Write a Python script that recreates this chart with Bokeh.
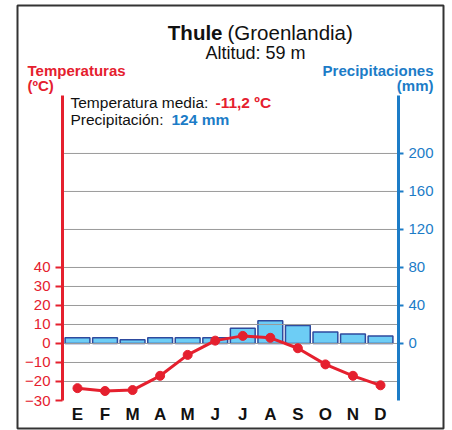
from bokeh.plotting import figure
from bokeh.models import (Range1d, LinearAxis, FixedTicker, Label, BoxAnnotation)
from bokeh.embed import file_html
from bokeh.resources import INLINE

# ---- data ----
months = ["E", "F", "M", "A", "M", "J", "J", "A", "S", "O", "N", "D"]
temperature = [-23.5, -25.0, -24.5, -17.0, -6.0, 1.5, 4.0, 3.0, -2.5, -11.0, -17.0, -22.0]
precipitation = [6, 6, 4, 6, 6, 6, 16, 24, 19, 12, 10, 8]
temp_ticks = [-30, -20, -10, 0, 10, 20, 30, 40]
prec_ticks = [0, 40, 80, 120, 160, 200]
grid_ticks = [-20, -10, 0, 10, 20, 30, 40, 60, 80, 100]   # in °C (60, 80, 100 °C = 120, 160, 200 mm)
title_bold = "Thule"
title_rest = "(Groenlandia)"
subtitle = "Altitud: 59 m"
mean_temp_text = "-11,2 ºC"
total_prec_text = "124 mm"

RED = "#e5202e"
BLUE = "#1c7cc7"
FONT = "Liberation Sans"

x_idx = list(range(len(months)))

# ---- geometry: chart area in canvas pixels and its data extent ----
W, H = 452, 430
CL, CR, CT, CB = 62, 398, 95, 400          # chart area pixel box
XA0, XA1 = -0.544, 11.653                  # month units at left/right axis
TA0, TA1 = -30.0, 130.5                    # temperature at bottom/top of axes
PREC_PER_DEG = 2.0                         # 2 mm per 1 °C

sx = (CR - CL) / (XA1 - XA0)
sy = (CB - CT) / (TA1 - TA0)
X0 = XA0 - CL / sx
X1 = XA1 + (W - CR) / sx
Y0 = TA0 - (H - CB) / sy
Y1 = TA1 + CT / sy


def fx(px):
    return X0 + px / sx


def fy(py):
    return Y1 - py / sy


p = figure(width=W, height=H, output_backend="svg", toolbar_location=None,
           x_range=Range1d(X0, X1), y_range=Range1d(Y0, Y1), min_border=0)
p.min_border_left = p.min_border_right = p.min_border_top = p.min_border_bottom = 0
p.outline_line_color = None
p.background_fill_color = "white"
p.border_fill_color = "white"
p.extra_y_ranges = {"prec": Range1d(Y0 * PREC_PER_DEG, Y1 * PREC_PER_DEG)}
p.xgrid.visible = False
p.ygrid.visible = False

# left axis (temperature)
ya = p.yaxis[0]
ya.fixed_location = XA0
ya.bounds = (TA0, TA1)
ya.ticker = FixedTicker(ticks=temp_ticks)
ya.axis_line_color = RED
ya.axis_line_width = 3
ya.major_tick_line_color = RED
ya.major_tick_line_width = 2
ya.major_tick_out = 7
ya.major_tick_in = 0
ya.minor_tick_line_color = None
ya.major_label_text_color = RED
ya.major_label_text_font = FONT
ya.major_label_text_font_size = "15px"
ya.major_label_standoff = 5

# right axis (precipitation)
ra = LinearAxis(y_range_name="prec", ticker=FixedTicker(ticks=prec_ticks),
                fixed_location=XA1, bounds=(TA0 * PREC_PER_DEG, TA1 * PREC_PER_DEG))
ra.axis_line_color = BLUE
ra.axis_line_width = 3
ra.major_tick_line_color = BLUE
ra.major_tick_line_width = 2
ra.major_tick_out = 5
ra.major_tick_in = 1
ra.minor_tick_line_color = None
ra.major_label_text_color = BLUE
ra.major_label_text_font = FONT
ra.major_label_text_font_size = "15px"
ra.major_label_standoff = 5
p.add_layout(ra, "right")

# bottom axis (months)
xa = p.xaxis[0]
xa.fixed_location = TA0
xa.ticker = FixedTicker(ticks=x_idx)
xa.major_label_overrides = {i: m for i, m in zip(x_idx, months)}
xa.axis_line_color = None
xa.major_tick_line_color = None
xa.major_tick_out = 0
xa.major_tick_in = 0
xa.minor_tick_line_color = None
xa.major_label_text_font = FONT
xa.major_label_text_font_style = "bold"
xa.major_label_text_font_size = "17px"
xa.major_label_text_color = "#111111"
xa.major_label_standoff = 4

# bars (below grid lines)
bars = p.vbar(x=x_idx, top=precipitation, bottom=0, width=0.9,
              y_range_name="prec", fill_color="#6dcdf5",
              line_color="#2e4a9e", line_width=1.5)
bars.level = "underlay"

# horizontal grid lines across the chart area
p.segment(x0=[XA0] * len(grid_ticks), x1=[XA1] * len(grid_ticks),
          y0=grid_ticks, y1=grid_ticks, line_color="#9a9a9a", line_width=1)

# temperature line
p.line(x_idx, temperature, line_color=RED, line_width=3)
p.scatter(x_idx, temperature, size=9, fill_color=RED, line_color=RED)


# texts (positions given in canvas pixels, converted to data units)
def lab(text, px, py, align="left", color="#111111", size="15px", style="normal"):
    p.add_layout(Label(x=fx(px), y=fy(py), text=text, text_align=align,
                       text_baseline="alphabetic", text_color=color,
                       text_font=FONT, text_font_size=size,
                       text_font_style=style))


lab(title_bold, 222, 32, align="right", size="20.5px", style="bold")
lab(title_rest, 227, 32, align="left", size="20.5px")
lab(subtitle, 255, 52, align="center", size="18px")
lab("Temperaturas", 27, 70, color=RED, size="15px", style="bold")
lab("(ºC)", 27, 85, color=RED, size="15px", style="bold")
lab("Precipitaciones", 433, 70, align="right", color=BLUE, size="15px", style="bold")
lab("(mm)", 433, 85, align="right", color=BLUE, size="15px", style="bold")
lab("Temperatura media:", 70, 102, size="15.5px")
lab(mean_temp_text, 215, 102, color=RED, size="15.5px", style="bold")
lab("Precipitación:", 70, 119, size="15.5px")
lab(total_prec_text, 171, 119, color=BLUE, size="15.5px", style="bold")

# outer frame
p.add_layout(BoxAnnotation(left=fx(17), right=fx(443), top=fy(5), bottom=fy(428),
                           fill_color=None, fill_alpha=0, line_alpha=1.0,
                           line_color="#333333", line_width=2))

open("out.html", "w").write(file_html(p, INLINE))
